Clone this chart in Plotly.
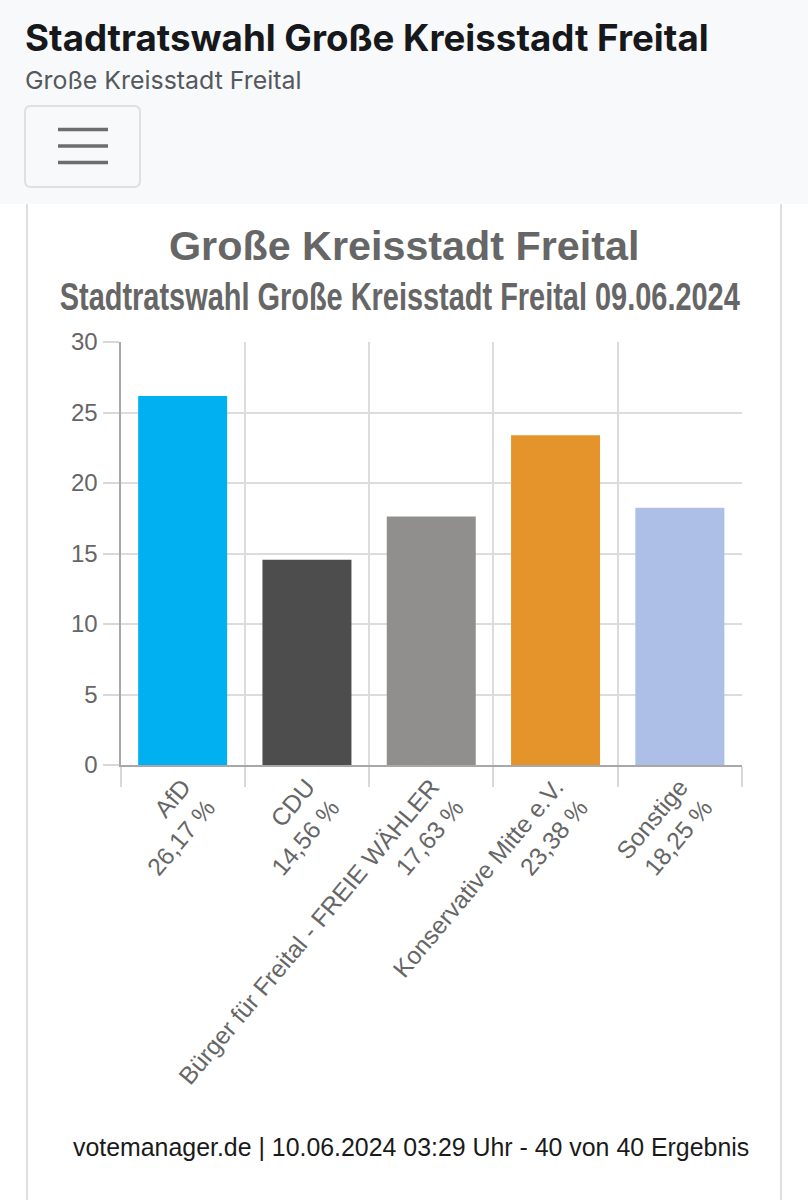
import plotly.graph_objects as go

W = 808
H = 1200

PARTIES = ["AfD", "CDU", "Bürger für Freital - FREIE WÄHLER", "Konservative Mitte e.V.", "Sonstige"]
PERCENT_LABELS = ["26,17 %", "14,56 %", "17,63 %", "23,38 %", "18,25 %"]
VALUES = [26.17, 14.56, 17.63, 23.38, 18.25]
BAR_COLORS = ["#00b0f0", "#4d4d4d", "#908f8e", "#e5942b", "#adbfe6"]
Y_TICKS = [0, 5, 10, 15, 20, 25, 30]


def px(x):
    return x / W


def py(y):
    return 1 - y / H


def text(x, y, s, size, color, family, anchor="left", weight="normal"):
    # x, y given in page pixels
    return dict(
        xref="paper", yref="paper", x=px(x), y=py(y), text=s, showarrow=False,
        xanchor=anchor, yanchor="middle", align=anchor,
        font=dict(size=size, color=color, family=family, weight=weight),
    )


def rect(x0, y0, x1, y1, **kw):
    return dict(type="rect", xref="paper", yref="paper", x0=px(x0), x1=px(x1), y0=py(y0), y1=py(y1),
                layer="below", **kw)


tick_labels = [f"{p}<br>{v}" for p, v in zip(PARTIES, PERCENT_LABELS)]

fig = go.Figure(go.Bar(x=PARTIES, y=VALUES, marker=dict(color=BAR_COLORS, line=dict(width=0))))

shapes = [
    rect(0, 0, W, 204, fillcolor="#f8f9fa", line=dict(width=0)),
    rect(26, 204, 28, H, fillcolor="#dfdfdf", line=dict(width=0)),
    rect(780, 204, 782, H, fillcolor="#dfdfdf", line=dict(width=0)),
    # toggler button
    dict(type="path", xref="paper", yref="paper", layer="below",
         path=f"M {px(31)} {py(106)} L {px(134)} {py(106)} Q {px(140)} {py(106)} {px(140)} {py(112)} "
              f"L {px(140)} {py(181)} Q {px(140)} {py(187)} {px(134)} {py(187)} L {px(31)} {py(187)} "
              f"Q {px(25)} {py(187)} {px(25)} {py(181)} L {px(25)} {py(112)} Q {px(25)} {py(106)} {px(31)} {py(106)} Z",
         fillcolor="#f8f9fa", line=dict(color="#dfe0e2", width=2)),
]
for y in [129.5, 146, 162.5]:
    shapes.append(rect(58, y - 1.7, 108, y + 1.7, fillcolor="#6c6d6f", line=dict(width=0)))

annotations = [
    text(23, 38, "Stadtratswahl Große Kreisstadt Freital", 36.7, "#16181b", "Inter", weight="bold"),
    text(23, 80, "Große Kreisstadt Freital", 24.9, "#55595d", "Inter"),
    text(403.5, 246, "Große Kreisstadt Freital", 41.3, "#666666", "Liberation Sans", "center", "bold"),
    text(400, 296, "Stadtratswahl Große Kreisstadt Freital 09.06.2024", 29.5, "#666666",
         "Liberation Sans", "center", "bold"),
    text(71, 1147, "votemanager.de | 10.06.2024 03:29 Uhr - 40 von 40 Ergebnis", 24.9, "#1a1a1a", "Liberation Sans"),
]

fig.update_layout(
    width=W, height=H, margin=dict(l=0, r=0, t=0, b=0),
    paper_bgcolor="white", plot_bgcolor="white", showlegend=False,
    bargap=0.284, shapes=shapes, annotations=annotations,
    font=dict(family="Liberation Sans", color="#666666"),
)
fig.update_xaxes(
    domain=[px(120.5), px(742)], automargin=False, tickmode="array", tickvals=PARTIES, ticktext=tick_labels,
    tickson="boundaries", ticks="outside", ticklen=20, tickcolor="#d8d8d8", tickwidth=2,
    tickangle=-50, tickfont=dict(size=24.5, color="#666666"), ticklabelstandoff=-4,
    showgrid=True, gridcolor="#dcdcdc", gridwidth=1.5,
    showline=True, linecolor="#a8a8a8", linewidth=2,
)
fig.update_yaxes(
    domain=[py(765), py(342)], automargin=False, range=[0, 30], tickmode="array", tickvals=Y_TICKS,
    ticks="outside", ticklen=16, tickcolor="#d8d8d8", tickwidth=2,
    tickfont=dict(size=24, color="#666666"),
    showgrid=True, gridcolor="#dcdcdc", gridwidth=1.5, zeroline=False,
    showline=True, linecolor="#a8a8a8", linewidth=2,
)

# no condensed font installed, stretch the subtitle upward to look the same
post = """
document.documentElement.style.margin = '0';
document.body.style.margin = '0';
document.querySelectorAll('.annotation-text').forEach(function (t) {
    if (t.textContent.indexOf('09.06.2024') >= 0) {
        t.setAttribute('textLength', '680');
        t.setAttribute('lengthAdjust', 'spacingAndGlyphs');
        t.style.transformBox = 'fill-box';
        t.style.transformOrigin = 'center';
        t.style.transform = 'scaleY(1.32)';
    }
});
"""
fig.write_html("out.html", config=dict(displayModeBar=False), post_script=post)
